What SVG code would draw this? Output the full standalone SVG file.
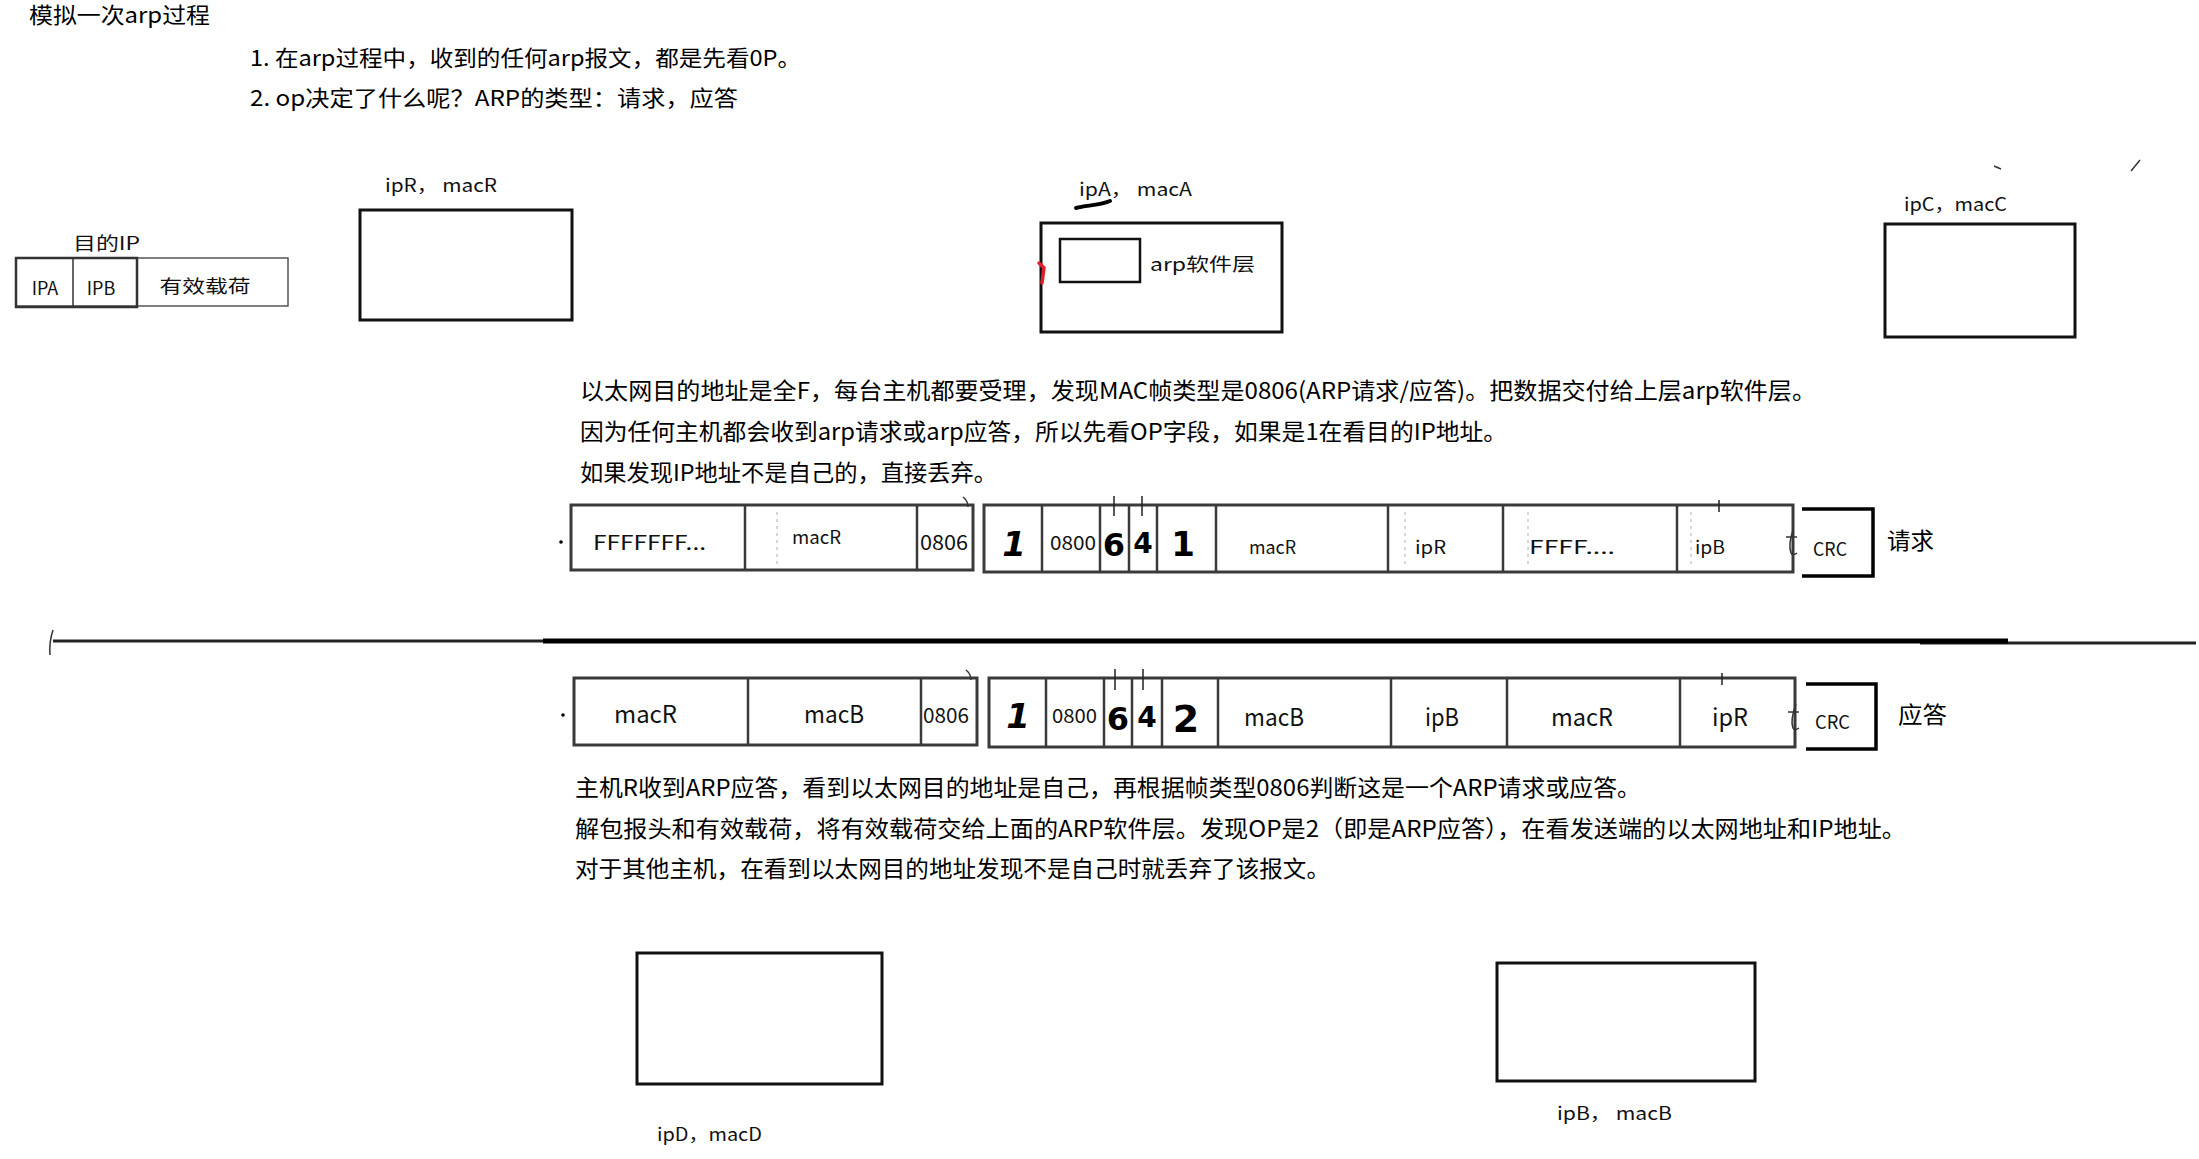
<svg xmlns="http://www.w3.org/2000/svg" width="2199" height="1159" viewBox="0 0 2199 1159">
<style>
  .t { font-family: "Noto Sans CJK SC", "Liberation Sans", sans-serif; fill: #000; }
  .lab { font-family: "Noto Sans CJK SC", "DejaVu Sans Mono", sans-serif; fill: #111; font-size: 18px; }
  .box { fill: #fff; stroke: #111; stroke-width: 3; }
  .pkt { fill: #fff; stroke: #3a3a3a; stroke-width: 3; }
  .div { stroke: #3a3a3a; stroke-width: 2.5; }
  .faint { stroke: #bbb; stroke-width: 1.2; stroke-dasharray: 3 4; }
  .hand { font-family: "DejaVu Sans", "Liberation Sans", sans-serif; font-weight: bold; fill: #000; text-anchor: middle; }
  .cell { font-family: "Noto Sans CJK SC", "Liberation Sans", sans-serif; fill: #111; }
  .crc { fill: none; stroke: #000; stroke-width: 3.5; }
  .mark { fill: none; stroke: #333; stroke-width: 1.5; }
</style>

<!-- header texts -->
<g id="header">
  <text class="t" x="29" y="23" font-size="22" textLength="181" lengthAdjust="spacingAndGlyphs">模拟一次arp过程</text>
  <text class="t" x="250" y="66" font-size="22" textLength="551" lengthAdjust="spacingAndGlyphs">1. 在arp过程中，收到的任何arp报文，都是先看0P。</text>
  <text class="t" x="250" y="106" font-size="22" textLength="488" lengthAdjust="spacingAndGlyphs">2. op决定了什么呢？ARP的类型：请求，应答</text>
</g>

<!-- left IP packet -->
<g id="ip-packet">
  <text class="lab" x="73" y="250" font-size="19" textLength="67" lengthAdjust="spacingAndGlyphs">目的IP</text>
  <rect x="16" y="258" width="272" height="48" fill="#fff" stroke="#555" stroke-width="1.5"/>
  <rect x="16" y="258" width="121" height="49" fill="none" stroke="#333" stroke-width="2.5"/>
  <line x1="73" y1="258" x2="73" y2="307" stroke="#333" stroke-width="1.5"/>
  <text class="lab" x="45" y="295" font-size="19" text-anchor="middle">IPA</text>
  <text class="lab" x="101" y="295" font-size="19" text-anchor="middle">IPB</text>
  <text class="lab" x="205" y="293" font-size="21" text-anchor="middle" textLength="91" lengthAdjust="spacingAndGlyphs">有效载荷</text>
</g>

<!-- host R -->
<g id="host-R">
  <text class="lab" x="385" y="192" textLength="112" lengthAdjust="spacingAndGlyphs">ipR， macR</text>
  <rect class="box" x="360" y="210" width="212" height="110"/>
</g>

<!-- host A -->
<g id="host-A">
  <text class="lab" x="1079" y="196" textLength="113" lengthAdjust="spacingAndGlyphs">ipA， macA</text>
  <path d="M1076 208 C1086 205, 1098 206, 1110 201" fill="none" stroke="#000" stroke-width="4" stroke-linecap="round"/>
  <rect class="box" x="1041" y="223" width="241" height="109"/>
  <rect x="1060" y="239" width="80" height="43" fill="#fff" stroke="#111" stroke-width="2.5"/>
  <text class="lab" x="1150" y="271" font-size="21" textLength="105" lengthAdjust="spacingAndGlyphs">arp软件层</text>
  <path d="M1039 263 L1044 268 L1042 283" fill="none" stroke="#e0202a" stroke-width="3.5" stroke-linecap="round"/>
</g>

<!-- host C -->
<g id="host-C">
  <text class="lab" x="1904" y="211" textLength="103" lengthAdjust="spacingAndGlyphs">ipC，macC</text>
  <rect class="box" x="1885" y="224" width="190" height="113"/>
  <path d="M1994 166 L2001 169" class="mark"/>
  <path d="M2131 171 L2140 160" class="mark"/>
</g>

<!-- paragraph 1 -->
<g id="para-request">
  <text class="t" x="580" y="399" font-size="23" textLength="1236" lengthAdjust="spacingAndGlyphs">以太网目的地址是全F，每台主机都要受理，发现MAC帧类型是0806(ARP请求/应答)。把数据交付给上层arp软件层。</text>
  <text class="t" x="580" y="440" font-size="23" textLength="927" lengthAdjust="spacingAndGlyphs">因为任何主机都会收到arp请求或arp应答，所以先看OP字段，如果是1在看目的IP地址。</text>
  <text class="t" x="580" y="481" font-size="23" textLength="417" lengthAdjust="spacingAndGlyphs">如果发现IP地址不是自己的，直接丢弃。</text>
</g>

<!-- request frame -->
<g id="request-frame">
  <circle cx="561" cy="542" r="1.8" fill="#000"/>
  <rect class="pkt" x="571" y="505" width="402" height="65"/>
  <line class="div" x1="745" y1="505" x2="745" y2="570"/>
  <line class="div" x1="917" y1="505" x2="917" y2="570"/>
  <line class="faint" x1="777" y1="512" x2="777" y2="565"/>
  <path d="M963 497 Q968 501 968 507" class="mark"/>
  <rect class="pkt" x="984" y="505" width="809" height="67"/>
  <line class="div" x1="1042" y1="505" x2="1042" y2="572"/>
  <line class="div" x1="1100" y1="505" x2="1100" y2="572"/>
  <line class="div" x1="1129" y1="505" x2="1129" y2="572"/>
  <line class="div" x1="1157" y1="505" x2="1157" y2="572"/>
  <line class="div" x1="1216" y1="505" x2="1216" y2="572"/>
  <line class="div" x1="1388" y1="505" x2="1388" y2="572"/>
  <line class="div" x1="1503" y1="505" x2="1503" y2="572"/>
  <line class="div" x1="1677" y1="505" x2="1677" y2="572"/>
  <line x1="1114" y1="496" x2="1114" y2="516" stroke="#222" stroke-width="1.5"/>
  <line x1="1142" y1="496" x2="1142" y2="516" stroke="#222" stroke-width="1.5"/>
  <line x1="1719" y1="500" x2="1719" y2="512" stroke="#222" stroke-width="1.5"/>
  <line class="faint" x1="1405" y1="512" x2="1405" y2="566"/>
  <line class="faint" x1="1528" y1="512" x2="1528" y2="566"/>
  <line class="faint" x1="1691" y1="512" x2="1691" y2="566"/>
  <text class="cell" x="593" y="550" font-size="20" textLength="113" lengthAdjust="spacingAndGlyphs">FFFFFFF...</text>
  <text class="cell" x="792" y="544" font-size="18" textLength="49" lengthAdjust="spacingAndGlyphs">macR</text>
  <text class="cell" x="920" y="550" font-size="20" textLength="48" lengthAdjust="spacingAndGlyphs">0806</text>
  <text class="hand" x="1014" y="556" font-size="34" font-style="italic">1</text>
  <text class="cell" x="1050" y="550" font-size="19" textLength="46" lengthAdjust="spacingAndGlyphs">0800</text>
  <text class="hand" x="1114" y="556" font-size="32">6</text>
  <text class="hand" x="1143" y="553" font-size="28">4</text>
  <text class="hand" x="1183" y="556" font-size="34">1</text>
  <text class="cell" x="1249" y="554" font-size="18" textLength="47" lengthAdjust="spacingAndGlyphs">macR</text>
  <text class="cell" x="1415" y="554" font-size="18" textLength="31" lengthAdjust="spacingAndGlyphs">ipR</text>
  <text class="cell" x="1529" y="554" font-size="18" textLength="86" lengthAdjust="spacingAndGlyphs">FFFF....</text>
  <text class="cell" x="1695" y="554" font-size="18" textLength="30" lengthAdjust="spacingAndGlyphs">ipB</text>
  <path d="M1786 537 L1797 537 M1793 530 Q1788 545 1791 553 Q1793 556 1797 553" class="mark"/>
  <path class="crc" d="M1802 509 L1873 509 L1873 576 L1802 576"/>
  <text class="cell" x="1813" y="556" font-size="19" textLength="34" lengthAdjust="spacingAndGlyphs">CRC</text>
  <text class="t" x="1887" y="549" font-size="23" textLength="47" lengthAdjust="spacingAndGlyphs">请求</text>
</g>

<!-- separator -->
<g id="connectors">
  <line x1="53" y1="641" x2="543" y2="641" stroke="#222" stroke-width="3"/>
  <line x1="1920" y1="643" x2="2196" y2="643" stroke="#222" stroke-width="3"/>
  <line x1="543" y1="641" x2="2008" y2="641" stroke="#000" stroke-width="5"/>
  <path d="M53 630 Q49 642 50 655" class="mark"/>
</g>

<!-- reply frame -->
<g id="reply-frame">
  <circle cx="563" cy="715" r="1.8" fill="#000"/>
  <rect class="pkt" x="574" y="678" width="403" height="67"/>
  <line class="div" x1="748" y1="678" x2="748" y2="745"/>
  <line class="div" x1="921" y1="678" x2="921" y2="745"/>
  <path d="M966 670 Q971 674 971 680" class="mark"/>
  <rect class="pkt" x="989" y="678" width="806" height="69"/>
  <line class="div" x1="1046" y1="678" x2="1046" y2="747"/>
  <line class="div" x1="1104" y1="678" x2="1104" y2="747"/>
  <line class="div" x1="1132" y1="678" x2="1132" y2="747"/>
  <line class="div" x1="1162" y1="678" x2="1162" y2="747"/>
  <line class="div" x1="1218" y1="678" x2="1218" y2="747"/>
  <line class="div" x1="1391" y1="678" x2="1391" y2="747"/>
  <line class="div" x1="1507" y1="678" x2="1507" y2="747"/>
  <line class="div" x1="1680" y1="678" x2="1680" y2="747"/>
  <line x1="1115" y1="669" x2="1115" y2="690" stroke="#222" stroke-width="1.5"/>
  <line x1="1143" y1="669" x2="1143" y2="690" stroke="#222" stroke-width="1.5"/>
  <line x1="1722" y1="673" x2="1722" y2="685" stroke="#222" stroke-width="1.5"/>
  <text class="cell" x="614" y="723" font-size="24" textLength="63" lengthAdjust="spacingAndGlyphs">macR</text>
  <text class="cell" x="804" y="723" font-size="24" textLength="60" lengthAdjust="spacingAndGlyphs">macB</text>
  <text class="cell" x="923" y="723" font-size="20" textLength="46" lengthAdjust="spacingAndGlyphs">0806</text>
  <text class="hand" x="1018" y="728" font-size="34" font-style="italic">1</text>
  <text class="cell" x="1052" y="723" font-size="19" textLength="45" lengthAdjust="spacingAndGlyphs">0800</text>
  <text class="hand" x="1118" y="730" font-size="32">6</text>
  <text class="hand" x="1147" y="727" font-size="28">4</text>
  <text class="hand" x="1186" y="732" font-size="38" font-weight="normal">2</text>
  <text class="cell" x="1244" y="726" font-size="24" textLength="60" lengthAdjust="spacingAndGlyphs">macB</text>
  <text class="cell" x="1425" y="726" font-size="24" textLength="34" lengthAdjust="spacingAndGlyphs">ipB</text>
  <text class="cell" x="1551" y="726" font-size="24" textLength="62" lengthAdjust="spacingAndGlyphs">macR</text>
  <text class="cell" x="1712" y="726" font-size="24" textLength="36" lengthAdjust="spacingAndGlyphs">ipR</text>
  <path d="M1788 712 L1799 712 M1796 704 Q1790 720 1793 728 Q1795 731 1799 728" class="mark"/>
  <path class="crc" d="M1806 684 L1876 684 L1876 749 L1806 749"/>
  <text class="cell" x="1815" y="729" font-size="19" textLength="35" lengthAdjust="spacingAndGlyphs">CRC</text>
  <text class="t" x="1898" y="723" font-size="23" textLength="49" lengthAdjust="spacingAndGlyphs">应答</text>
</g>

<!-- paragraph 2 -->
<g id="para-reply">
  <text class="t" x="575" y="796" font-size="23" textLength="1066" lengthAdjust="spacingAndGlyphs">主机R收到ARP应答，看到以太网目的地址是自己，再根据帧类型0806判断这是一个ARP请求或应答。</text>
  <text class="t" x="575" y="837" font-size="23" textLength="1331" lengthAdjust="spacingAndGlyphs">解包报头和有效载荷，将有效载荷交给上面的ARP软件层。发现OP是2（即是ARP应答），在看发送端的以太网地址和IP地址。</text>
  <text class="t" x="575" y="877" font-size="23" textLength="755" lengthAdjust="spacingAndGlyphs">对于其他主机，在看到以太网目的地址发现不是自己时就丢弃了该报文。</text>
</g>

<!-- host D -->
<g id="host-D">
  <rect class="box" x="637" y="953" width="245" height="131"/>
  <text class="lab" x="657" y="1141" textLength="105" lengthAdjust="spacingAndGlyphs">ipD，macD</text>
</g>

<!-- host B -->
<g id="host-B">
  <rect class="box" x="1497" y="963" width="258" height="118"/>
  <text class="lab" x="1557" y="1120" textLength="115" lengthAdjust="spacingAndGlyphs">ipB， macB</text>
</g>
</svg>
